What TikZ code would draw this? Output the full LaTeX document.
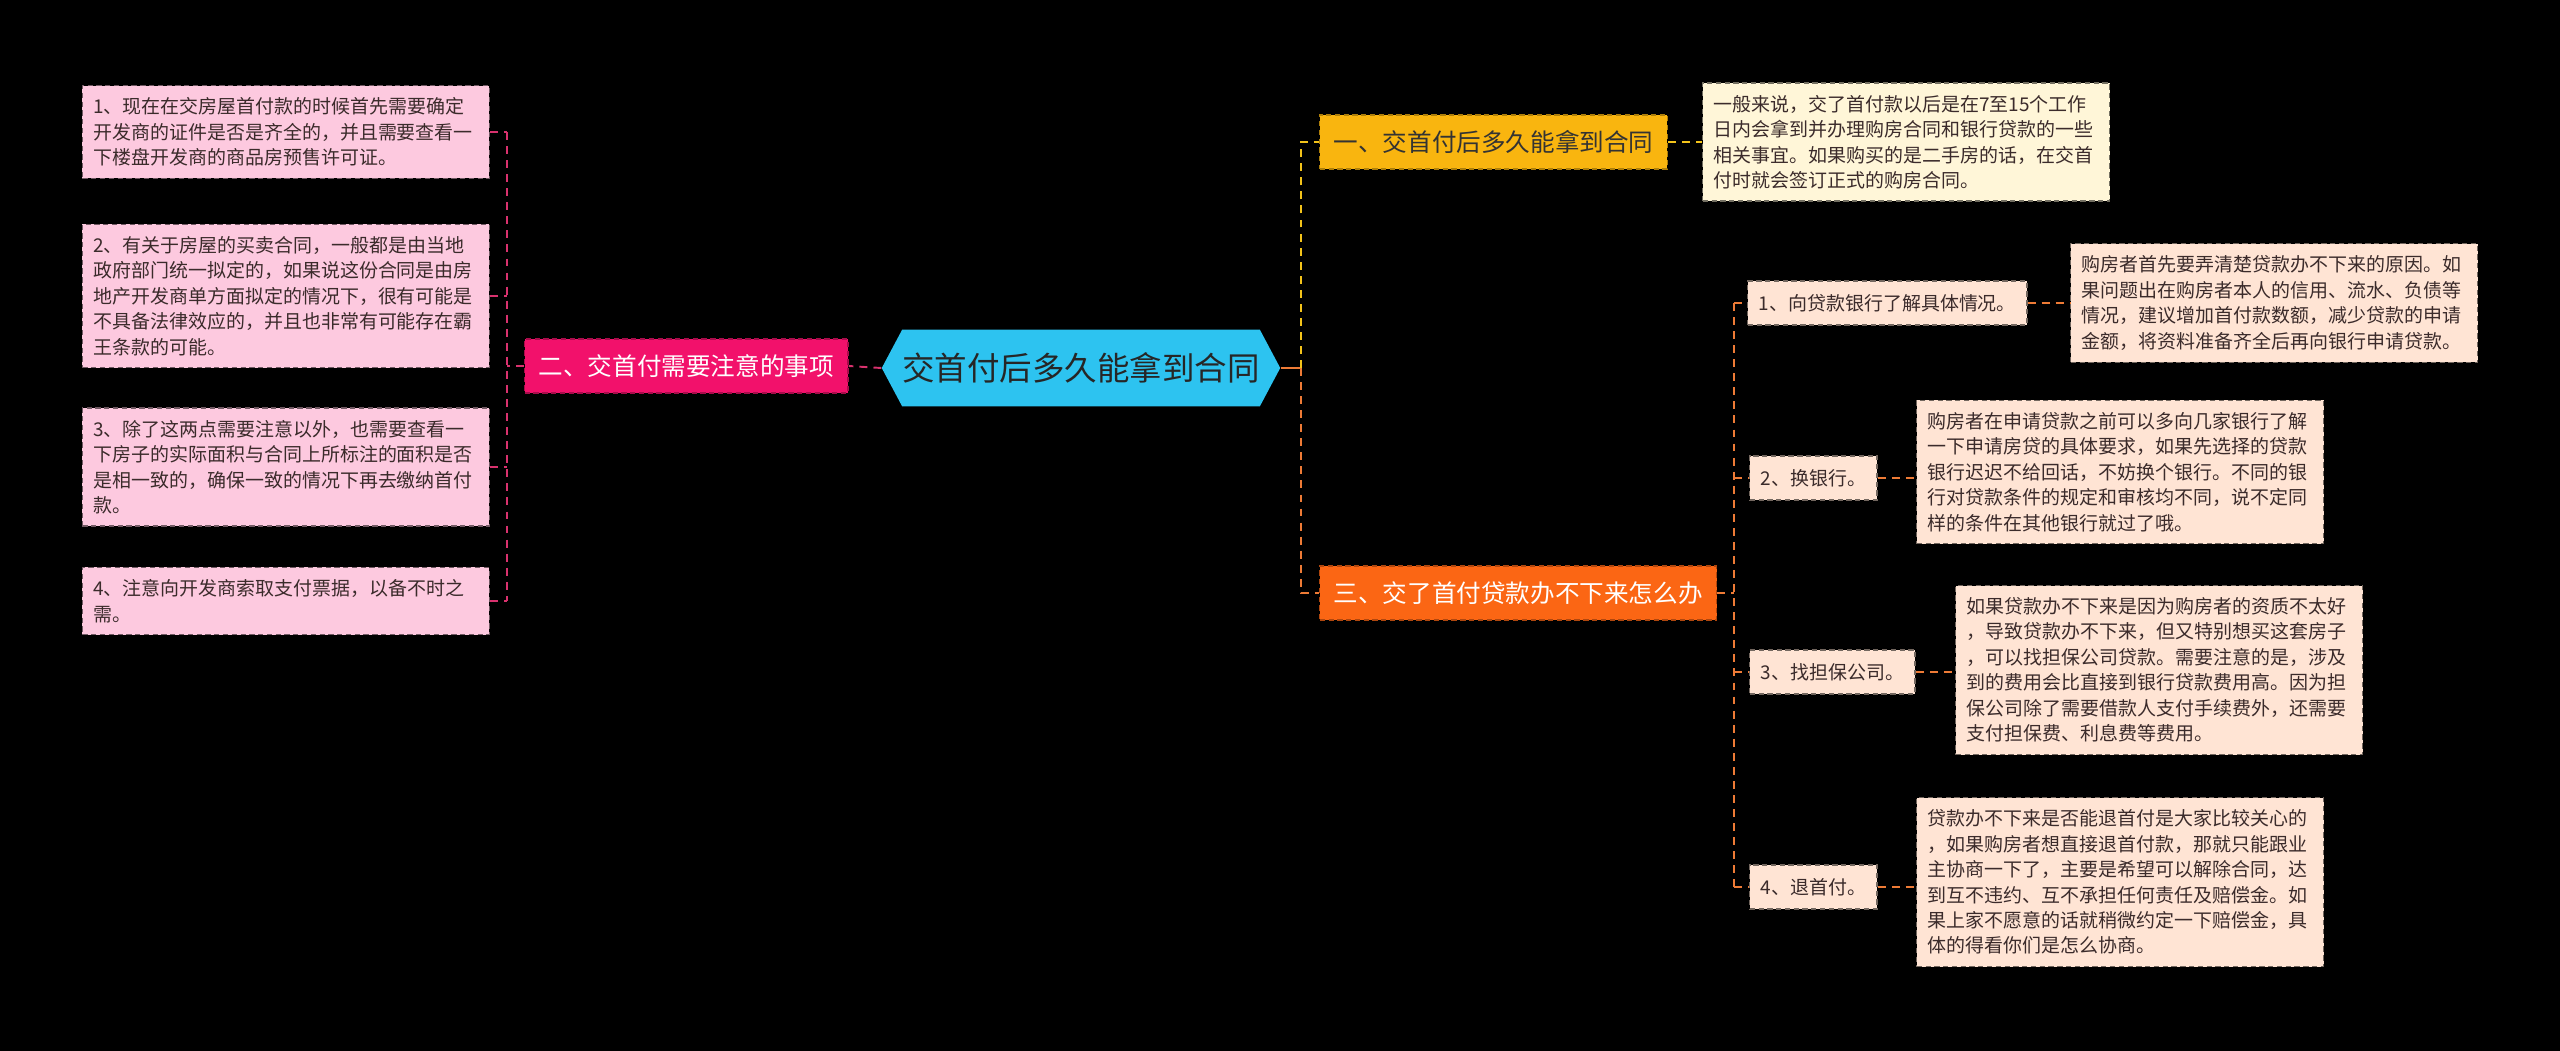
\documentclass[tikz,border=0pt]{standalone}
\usepackage{fontspec}
\setmainfont{Noto Sans CJK SC}
\usetikzlibrary{shapes.symbols}
\definecolor{cyanc}{HTML}{2DC3F0}
\definecolor{pinkb}{HTML}{F2116B}
\definecolor{pinkl}{HTML}{FDC9DF}
\definecolor{pinkline}{HTML}{D9326E}
\definecolor{amber}{HTML}{F9B50F}
\definecolor{cream}{HTML}{FFF6D8}
\definecolor{yellowline}{HTML}{F3C31A}
\definecolor{orangeb}{HTML}{FB6614}
\definecolor{peach}{HTML}{FFE4D4}
\definecolor{orangeline}{HTML}{EE7B36}
\definecolor{leaftext}{HTML}{3B2B2B}

\begin{document}
\begin{tikzpicture}[x=0.02cm,y=-0.02cm,
  item/.style={rectangle,draw=#1!45!black,dash pattern=on 3pt off 2pt,line width=0.8pt,fill=#1,align=left,inner xsep=0.22cm,inner ysep=0.24cm,text=leaftext,font=\fontsize{10.8pt}{14.5pt}\selectfont},
  leaf/.style={item=#1,text width=7.7cm},
  sub/.style={item=peach,minimum height=0.88cm,inner ysep=0.18cm,anchor=west},
  branch/.style={rectangle,draw=#1!70!black,dash pattern=on 3pt off 2pt,line width=0.8pt,fill=#1,inner xsep=0.28cm,minimum height=1.08cm,font=\fontsize{14pt}{16pt}\selectfont},
  link/.style={draw=#1,line width=1.1pt,dash pattern=on 4.5pt off 3.5pt}]
\fill[black] (0,0) rectangle (2560,1051);

\node[signal,signal to=west and east,signal pointer angle=124,fill=cyanc,minimum width=7.96cm,minimum height=1.54cm,inner sep=0pt,font=\fontsize{18.5pt}{20pt}\selectfont,text=black!85] (hetong) at (1081,368) {交首付后多久能拿到合同};

 \node[branch=pinkb,text=white,anchor=west] (zhuyi) at (524,366) {二、交首付需要注意的事项};
  \node[leaf=pinkl,anchor=east] (zy1) at (490,132) {1、现在在交房屋首付款的时候首先需要确定\\开发商的证件是否是齐全的，并且需要查看一\\下楼盘开发商的商品房预售许可证。};
  \node[leaf=pinkl,anchor=east] (zy2) at (490,296) {2、有关于房屋的买卖合同，一般都是由当地\\政府部门统一拟定的，如果说这份合同是由房\\地产开发商单方面拟定的情况下，很有可能是\\不具备法律效应的，并且也非常有可能存在霸\\王条款的可能。};
  \node[leaf=pinkl,anchor=east] (zy3) at (490,467) {3、除了这两点需要注意以外，也需要查看一\\下房子的实际面积与合同上所标注的面积是否\\是相一致的，确保一致的情况下再去缴纳首付\\款。};
  \node[leaf=pinkl,anchor=east] (zy4) at (490,601) {4、注意向开发商索取支付票据，以备不时之\\需。};

 \node[branch=amber,text=black!80,anchor=west] (nadao) at (1319,142) {一、交首付后多久能拿到合同};
  \node[leaf=cream,anchor=west] (nd1) at (1702,142) {一般来说，交了首付款以后是在7至15个工作\\日内会拿到并办理购房合同和银行贷款的一些\\相关事宜。如果购买的是二手房的话，在交首\\付时就会签订正式的购房合同。};

 \node[branch=orangeb,text=white,anchor=west] (daikuan) at (1319,593) {三、交了首付贷款办不下来怎么办};
  \node[sub] (dk1) at (1747,303) {1、向贷款银行了解具体情况。};
  \node[sub] (dk2) at (1749,478) {2、换银行。};
  \node[sub] (dk3) at (1749,672) {3、找担保公司。};
  \node[sub] (dk4) at (1749,887) {4、退首付。};
  \node[leaf=peach,anchor=west] (dk1t) at (2070,303) {购房者首先要弄清楚贷款办不下来的原因。如\\果问题出在购房者本人的信用、流水、负债等\\情况，建议增加首付款数额，减少贷款的申请\\金额，将资料准备齐全后再向银行申请贷款。};
  \node[leaf=peach,anchor=west] (dk2t) at (1916,472) {购房者在申请贷款之前可以多向几家银行了解\\一下申请房贷的具体要求，如果先选择的贷款\\银行迟迟不给回话，不妨换个银行。不同的银\\行对贷款条件的规定和审核均不同，说不定同\\样的条件在其他银行就过了哦。};
  \node[leaf=peach,anchor=west] (dk3t) at (1955,670) {如果贷款办不下来是因为购房者的资质不太好\\，导致贷款办不下来，但又特别想买这套房子\\，可以找担保公司贷款。需要注意的是，涉及\\到的费用会比直接到银行贷款费用高。因为担\\保公司除了需要借款人支付手续费外，还需要\\支付担保费、利息费等费用。};
  \node[leaf=peach,anchor=west] (dk4t) at (1916,882) {贷款办不下来是否能退首付是大家比较关心的\\，如果购房者想直接退首付款，那就只能跟业\\主协商一下了，主要是希望可以解除合同，达\\到互不违约、互不承担任何责任及赔偿金。如\\果上家不愿意的话就稍微约定一下赔偿金，具\\体的得看你们是怎么协商。};

\coordinate (ltrunk) at (507,366);
\coordinate (rtrunk) at (1301,368);
\coordinate (strunk) at (1734,593);

 \draw[link=pinkline] (hetong.west) -- (zhuyi.east);
 \draw[link=pinkline] (zhuyi.west) -- (ltrunk);
 \draw[link=pinkline] (ltrunk |- zy1.east) -- (ltrunk |- zy4.east);
 \foreach \n in {zy1,zy2,zy3,zy4}
   \draw[link=pinkline] (\n.east) -- (ltrunk |- \n.east);

 \draw[orangeline,line width=1.1pt] (hetong.east) -- (rtrunk);
 \draw[link=yellowline] (rtrunk) |- (nadao.west);
 \draw[link=orangeline] (rtrunk) |- (daikuan.west);
 \draw[link=yellowline] (nadao.east) -- (nd1.west);

 \draw[link=orangeline] (daikuan.east) -- (strunk);
 \draw[link=orangeline] (strunk |- dk1.west) -- (strunk |- dk4.west);
 \foreach \n in {dk1,dk2,dk3,dk4}{
   \draw[link=orangeline] (strunk |- \n.west) -- (\n.west);
   \draw[link=orangeline] (\n.east) -- (\n.east -| \n t.west);
 }
\end{tikzpicture}
\end{document}
